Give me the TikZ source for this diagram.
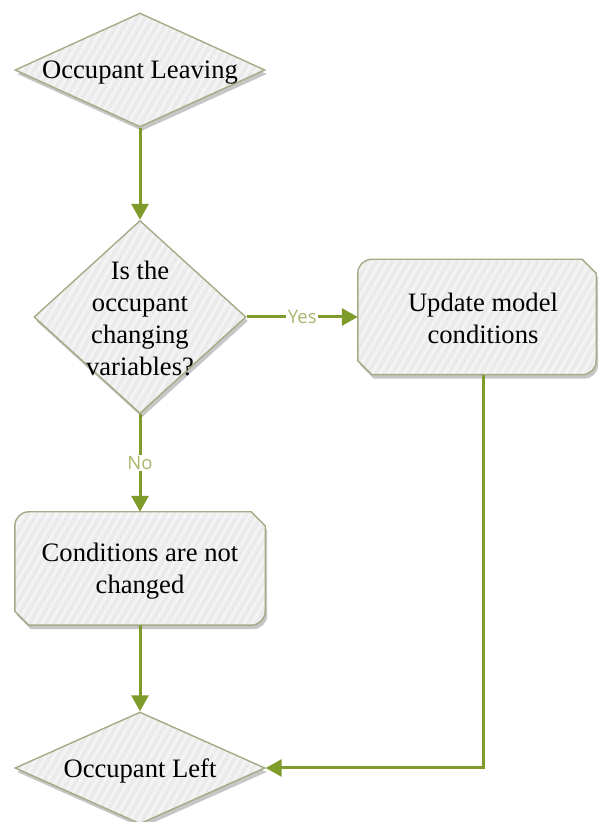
\documentclass[tikz,border=0pt]{standalone}
\usepackage{fontspec}
\setmainfont{Liberation Serif}
\newfontfamily\labelfont{Open Sans}
\usetikzlibrary{shapes.geometric,arrows.meta,shadows,patterns.meta,calc,backgrounds}

\definecolor{flowline}{HTML}{7F9B2C}
\definecolor{edgecol}{HTML}{A3AB87}
\definecolor{fillcol}{HTML}{EBEBEB}
\definecolor{stripecol}{HTML}{F4F4F4}
\definecolor{shadowcol}{HTML}{C6C6C6}
\definecolor{labelcol}{HTML}{A8B56B}

\tikzset{
  shapebase/.style={
    drop shadow={shadow xshift=2pt, shadow yshift=-4pt, fill=shadowcol, opacity=1},
    preaction={fill=fillcol},
    pattern={Lines[angle=60,distance=7pt,line width=3pt]},
    pattern color=stripecol,
    draw=edgecol, line width=1.4pt},
  decision/.style={shapebase, diamond, inner sep=0pt},
  procbox/.style={rectangle, inner sep=0pt},
  txt/.style={font=\fontsize{26.6}{32}\selectfont, align=center, text=black},
  flow/.style={draw=flowline, line width=3pt, -{Triangle[length=16pt,width=17pt]}},
  branch/.style={fill=white, text=labelcol, inner sep=1.5pt,
    font=\labelfont\fontsize{18.5}{20}\selectfont}
}

% process box: rounded top-left / bottom-right, snipped top-right / bottom-left
\newcommand\snipframe[1]{%
  \path[shapebase] ($(#1.north east)+(-14,0)$) -- ($(#1.north east)+(0,-14)$)
    -- ($(#1.south east)+(0,14)$) arc[start angle=0,end angle=-90,radius=14pt]
    -- ($(#1.south west)+(14,0)$) -- ($(#1.south west)+(0,14)$)
    -- ($(#1.north west)+(0,-14)$) arc[start angle=180,end angle=90,radius=14pt]
    -- cycle;}

\begin{document}
\begin{tikzpicture}[x=1pt,y=1pt]
\useasboundingbox (0,0) rectangle (598,822);

\node[decision, minimum width=250pt, minimum height=114pt,
      label={[txt, yshift=-3pt]center:Occupant Leaving}] (leave) at (140,752) {};
\node[decision, minimum width=212pt, minimum height=193pt,
      label={[txt, yshift=-1pt]center:Is the\\occupant\\changing\\variables?}] (ask) at (140,505) {};
\node[procbox, minimum width=238pt, minimum height=115pt,
      label={[txt, xshift=6pt, yshift=-1pt]center:Update model\\conditions}] (update) at (477,505) {};
\node[procbox, minimum width=250pt, minimum height=113pt,
      label={[txt, yshift=-3pt]center:Conditions are not\\changed}] (keep) at (140,253.5) {};
\node[decision, minimum width=250pt, minimum height=112pt,
      label={[txt, yshift=-3pt]center:Occupant Left}] (left) at (140,54) {};

\begin{scope}[on background layer]
  \snipframe{update}
  \snipframe{keep}
\end{scope}

\draw[flow] (leave.south) -- (ask.north);
\draw[flow] (ask.east) -- node[branch] {Yes} (update.west);
\draw[flow] (ask.south) -- node[branch] {No} (keep.north);
\draw[flow] (keep.south) -- (left.north);
\draw[flow] ([xshift=6pt]update.south) |- (left.east);
\end{tikzpicture}
\end{document}
